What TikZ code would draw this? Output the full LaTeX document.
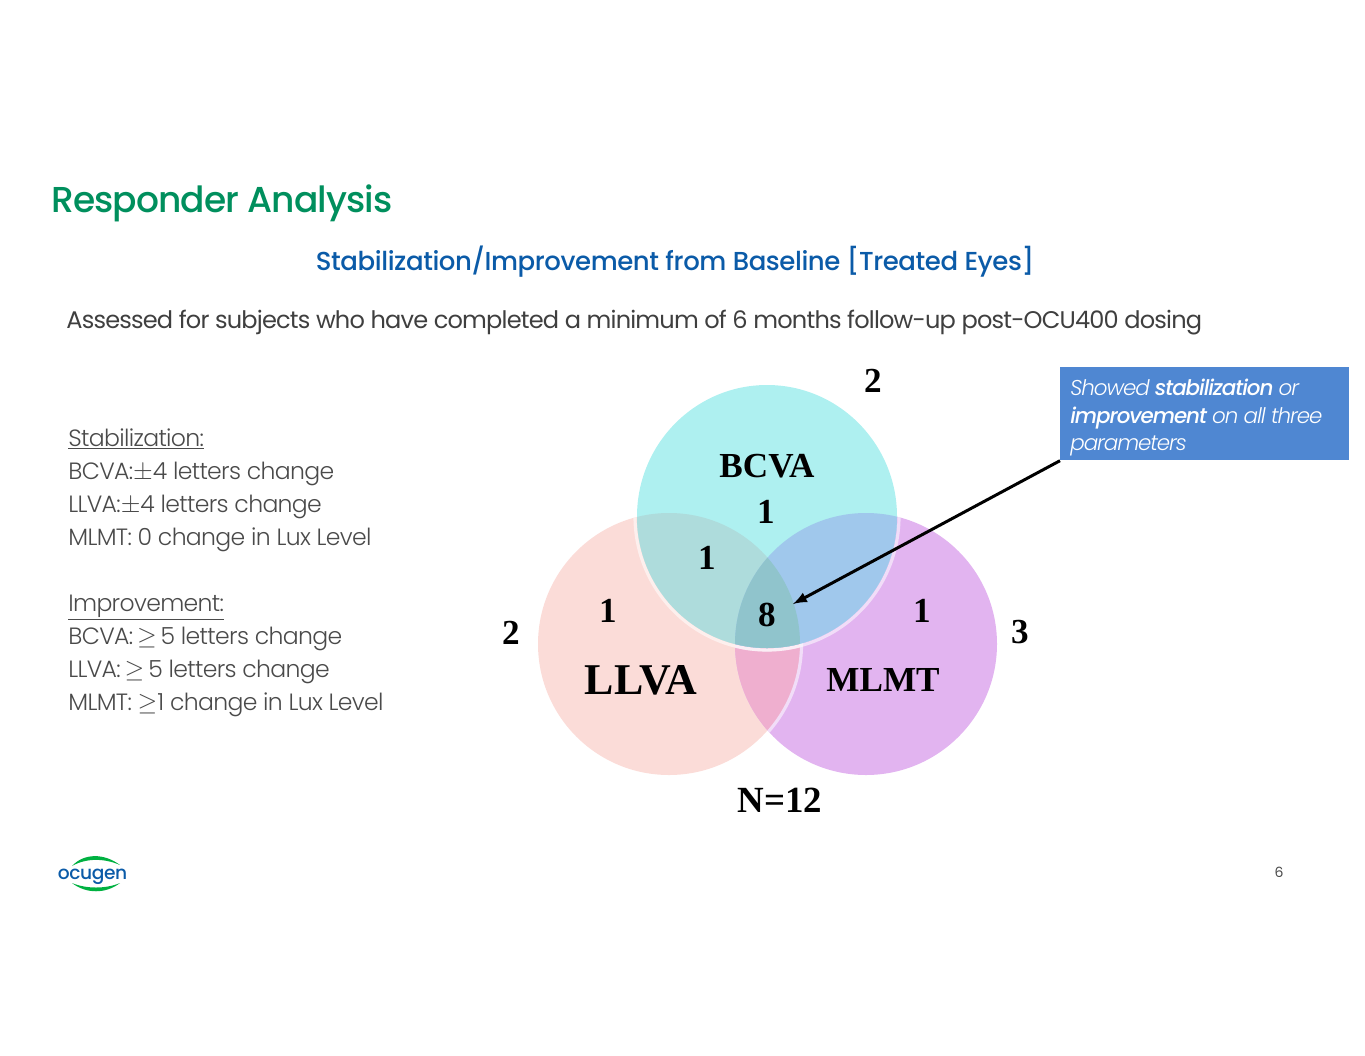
\documentclass[tikz,border=0pt]{standalone}
\usepackage{fontspec}
\setmainfont{Liberation Serif}
\newfontfamily\titlefont[LetterSpace=-2.6]{Poppins Medium}
\newfontfamily\subfont[LetterSpace=-1.6]{Poppins Medium}
\newfontfamily\slidefont[LetterSpace=-3.4]{Poppins}
\newfontfamily\lightfont[LetterSpace=-2.8]{Poppins Light}
\newfontfamily\calloutfont[LetterSpace=-5]{Poppins Light}
\newfontfamily\calloutbold[LetterSpace=-5]{Poppins Medium}
\newfontfamily\logofont[LetterSpace=-2]{Poppins Medium}
\definecolor{ocgreen}{HTML}{008F5D}
\definecolor{ocblue}{HTML}{0B5BA8}
\definecolor{bodygray}{HTML}{3F3F3F}
\definecolor{listgray}{HTML}{4A4A4A}
\definecolor{boxblue}{HTML}{4F87D2}
\definecolor{bcvafill}{HTML}{AEF0F0}
\definecolor{llvafill}{HTML}{FBDCD8}
\definecolor{mlmtfill}{HTML}{E2B4F0}
\definecolor{llmlfill}{HTML}{EFAFCF}
\definecolor{bcllfill}{HTML}{AEDCDC}
\definecolor{bcmlfill}{HTML}{A0C8EC}
\definecolor{allfill}{HTML}{90C4CC}
\tikzset{
  vennlabel/.style={font=\bfseries\fontsize{20}{20}\selectfont,text=black,inner sep=0pt},
  vennnum/.style={font=\bfseries\fontsize{20}{20}\selectfont,text=black,inner sep=0pt},
  vennrim/.style={white,opacity=0.55,line width=1.8pt},
  listline/.style={anchor=base west,inner sep=0pt,text=listgray,font=\lightfont\fontsize{13.4}{13.4}\selectfont},
  callline/.style={anchor=base west,inner sep=0pt,text=white,font=\calloutfont\itshape\fontsize{12.2}{12.2}\selectfont},
}
\begin{document}
\begin{tikzpicture}[x=0.02cm,y=-0.02cm]
\useasboundingbox (0,0) rectangle (1365,1055);
\node[anchor=base west,inner sep=0pt,text=ocgreen,font=\titlefont\fontsize{20.5}{20.5}\selectfont] (title) at (51,212) {Responder Analysis};
\node[anchor=base,inner sep=0pt,text=ocblue,font=\subfont\fontsize{14.8}{14.8}\selectfont] (subtitle) at (675,270) {Stabilization/Improvement from Baseline [Treated Eyes]};
\node[anchor=base west,inner sep=0pt,text=bodygray,font=\slidefont\fontsize{13.7}{13.7}\selectfont] (assessed) at (66,328) {Assessed for subjects who have completed a minimum of 6 months follow-up post-OCU400 dosing};
% criteria list
\foreach \y/\t in {446/\underline{Stabilization:},479/BCVA:$\pm$4 letters change,512/LLVA:$\pm$4 letters change,545/MLMT: 0 change in Lux Level,611/\underline{Improvement:},644/BCVA:\,$\ge$\,5 letters change,677/LLVA:\,$\ge$\,5 letters change,710/MLMT: $\ge$1 change in Lux Level}
  \node[listline] (line\y) at (68,\y) {\t};
% venn circles
\fill[llvafill] (669,644) circle (131);
\fill[mlmtfill] (866,644) circle (131);
\begin{scope}
  \clip (669,644) circle (131);
  \fill[llmlfill] (866,644) circle (131);
\end{scope}
\begin{scope}
  \clip (866,644) circle (131);
  \draw[vennrim] (669,644) circle (132.5);
\end{scope}
\begin{scope}
  \clip (669,644) circle (131);
  \draw[vennrim] (767,516.5) ellipse (132 and 133.5);
\end{scope}
\begin{scope}
  \clip (866,644) circle (131);
  \draw[vennrim] (767,516.5) ellipse (132 and 133.5);
\end{scope}
\fill[bcvafill] (767,516.5) ellipse (130 and 131.5);
\begin{scope}
  \clip (767,516.5) ellipse (130 and 131.5);
  \fill[bcllfill] (669,644) circle (131);
  \fill[bcmlfill] (866,644) circle (131);
  \clip (669,644) circle (131);
  \fill[allfill] (866,644) circle (131);
\end{scope}
% labels
\node[vennlabel] (bcva) at (767,466) {BCVA};
\node[vennlabel,font=\bfseries\fontsize{25}{25}\selectfont] (llva) at (641,680) {LLVA};
\node[vennlabel] (mlmt) at (883,680) {MLMT};
\foreach \n/\x/\y/\t in {a/766/512/1,b/707/558/1,c/608/611/1,d/922/611/1,e/767/615/8,f/873/381/2,g/511/633/2,h/1020/632/3}
  \node[vennnum] (num\n) at (\x,\y) {\t};
\node[vennlabel,font=\bfseries\fontsize{21}{21}\selectfont] (total) at (780,800) {N=12};
% callout
\node[anchor=north west,fill=boxblue,minimum width=5.78cm,minimum height=1.86cm,inner sep=0pt] (callout) at (1060,367) {};
\node[callline] (calla) at (1070,395) {Showed {\calloutbold stabilization} or};
\node[callline] (callb) at (1070,423) {{\calloutbold improvement} on all three};
\node[callline] (callc) at (1070,450) {parameters};
\coordinate (tip) at (793,604);
\draw[-latex,line width=1.7pt] (callout.south west) -- (tip);
% logo
\fill[ocgreen!70!green] (72,866) .. controls (84,853) and (104,853) .. (120,865) .. controls (104,858) and (86,858) .. (72,866);
\fill[ocgreen!70!green] (72,883) .. controls (86,894) and (106,894) .. (120,883) .. controls (106,889) and (86,889) .. (72,883);
\node[anchor=base,inner sep=0pt,text=ocblue,font=\logofont\fontsize{10.6}{10.6}\selectfont] (logo) at (92.5,879) {ocugen};
\node[anchor=base,inner sep=0pt,text=listgray,font=\slidefont\fontsize{8}{8}\selectfont] (pageno) at (1279,877) {6};
\end{tikzpicture}
\end{document}
